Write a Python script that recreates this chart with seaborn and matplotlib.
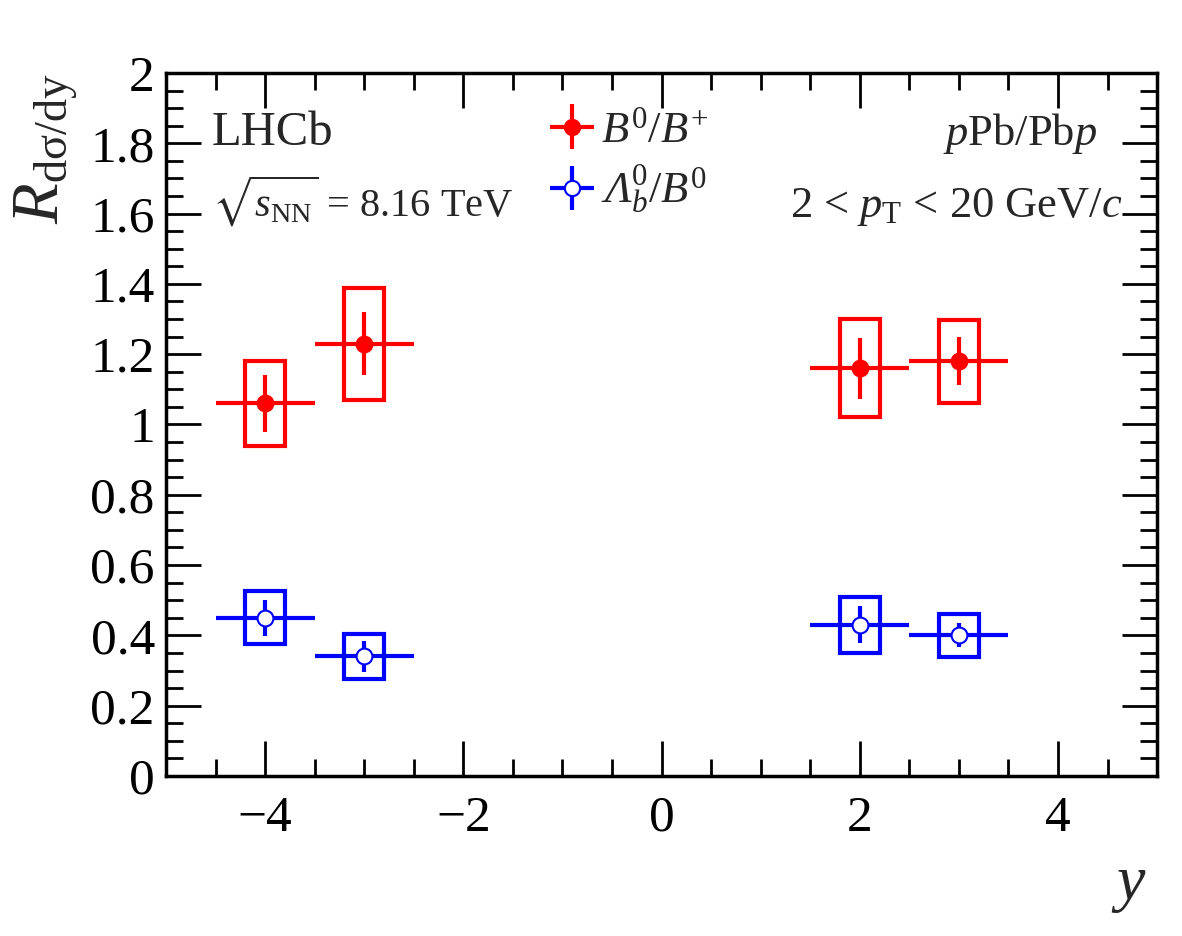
import numpy as np
import matplotlib
matplotlib.use('Agg')
import matplotlib.pyplot as plt
import seaborn as sns
from matplotlib.patches import Rectangle
from matplotlib.ticker import MultipleLocator, FuncFormatter

# --- data ---
rapidity = [-4, -3, 2, 3]
bin_halfwidth = [0.5, 0.5, 0.5, 0.5]
box_halfwidth = 0.2

ratio_b0_bplus = [1.06, 1.23, 1.16, 1.18]
stat_b0_bplus = [0.080, 0.090, 0.087, 0.068]
syst_b0_bplus = [0.122, 0.159, 0.139, 0.118]

ratio_lb_b0 = [0.45, 0.34, 0.43, 0.40]
stat_lb_b0 = [0.051, 0.045, 0.053, 0.034]
syst_lb_b0 = [0.075, 0.063, 0.080, 0.061]

sns.set_style('ticks')
plt.rcParams['font.family'] = ['Liberation Serif', 'DejaVu Serif']
# Times-like math; sf slot is used for an italic capital Lambda
plt.rcParams['mathtext.fontset'] = 'custom'
plt.rcParams['mathtext.rm'] = 'Liberation Serif'
plt.rcParams['mathtext.it'] = 'Liberation Serif:italic'
plt.rcParams['mathtext.bf'] = 'Liberation Serif:bold'
plt.rcParams['mathtext.sf'] = 'Liberation Serif:italic'
plt.rcParams['mathtext.fallback'] = 'stix'

fig = plt.figure(figsize=(11.82, 9.36), dpi=100)
ax = fig.add_axes([0.1404, 0.171, 0.8385, 0.751])

series = [
    (ratio_b0_bplus, stat_b0_bplus, syst_b0_bplus, 'red', 'red', r'$B^0/B^{+}$'),
    (ratio_lb_b0, stat_lb_b0, syst_lb_b0, 'blue', 'white', r'$\mathsf{\Lambda}_b^0/B^0$'),
]

handles, labels = [], []
for vals, stat, syst, col, face, lab in series:
    # systematic boxes
    for x, v, s in zip(rapidity, vals, syst):
        ax.add_patch(Rectangle((x - box_halfwidth, v - s), 2 * box_halfwidth, 2 * s,
                               fill=False, edgecolor=col, lw=3, zorder=2))
    # statistical errors + bin widths
    eb = ax.errorbar(rapidity, vals, xerr=bin_halfwidth, yerr=stat, fmt='none',
                     ecolor=col, elinewidth=3, capsize=0, zorder=3)
    df = {'y': rapidity, 'r': vals}
    sns.scatterplot(x='y', y='r', data=df, ax=ax, marker='o', s=130, color=face,
                    edgecolor=col, linewidth=1.5, zorder=4, legend=False)
    mk = plt.Line2D([], [], marker='o', ls='none', markersize=11,
                    markerfacecolor=face, markeredgecolor=col, markeredgewidth=1.5)
    handles.append((eb, mk))
    labels.append(lab)

ax.set_xlim(-5, 5)
ax.set_ylim(0, 2)
ax.xaxis.set_major_locator(MultipleLocator(2))
ax.xaxis.set_minor_locator(MultipleLocator(0.5))
ax.yaxis.set_major_locator(MultipleLocator(0.2))
ax.yaxis.set_minor_locator(MultipleLocator(0.05))
ax.yaxis.set_major_formatter(FuncFormatter(lambda v, p: f'{v:.1f}'.rstrip('0').rstrip('.') if v != 0 else '0'))
ax.xaxis.set_major_formatter(FuncFormatter(lambda v, p: f'\u2212{abs(v):.0f}' if v < 0 else f'{v:.0f}'))

ax.tick_params(which='both', direction='in', top=True, right=True, width=2, colors='black')
ax.tick_params(which='major', length=25, labelsize=37)
ax.tick_params(which='minor', length=12)
ax.tick_params(axis='x', which='major', pad=14)
ax.tick_params(axis='y', which='major', pad=8)
for sp in ax.spines.values():
    sp.set_linewidth(2.5)
    sp.set_color('black')

ax.set_ylabel(r'$R_{\mathrm{d\sigma/dy}}$', fontsize=48, loc='top')
ax.yaxis.set_label_coords(-0.087, 1.0)
ax.set_xlabel(r'$y$', fontsize=46, loc='right')
ax.xaxis.set_label_coords(0.99, -0.115)

ax.text(0.046, 0.8976, 'LHCb', transform=ax.transAxes, fontsize=35, va='baseline')
ax.text(0.046, 0.795, r'$\sqrt{s_{\mathrm{NN}}}$ = 8.16 TeV', transform=ax.transAxes,
        fontsize=29, va='baseline')
ax.text(0.94, 0.8976, r'$p$Pb/Pb$p$', transform=ax.transAxes, fontsize=32,
        ha='right', va='baseline')
ax.text(0.965, 0.795, r'2 < $p_{\mathrm{T}}$ < 20 GeV/$c$', transform=ax.transAxes,
        fontsize=32, ha='right', va='baseline')

ax.legend(handles, labels, loc='upper left', bbox_to_anchor=(0.358, 0.99), frameon=False,
          fontsize=32, handlelength=0.9, handletextpad=0.2, labelspacing=0.25,
          borderaxespad=0.3)

plt.savefig('out.png', dpi=100)
plt.close()
